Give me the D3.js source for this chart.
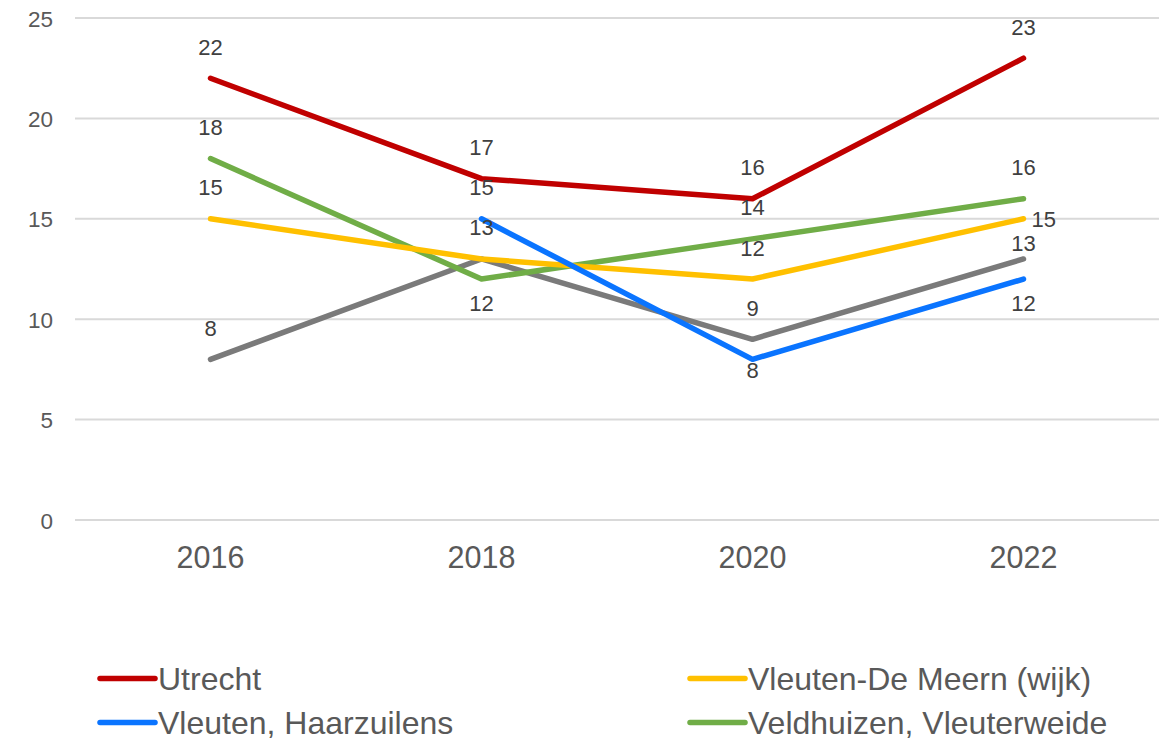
<!DOCTYPE html>
<html>
<head>
<meta charset="utf-8">
<script src="https://cdn.jsdelivr.net/npm/d3@7"></script>
<style>
  body { margin: 0; background: #fff; }
  text { font-family: "Liberation Sans", Arial, sans-serif; }
</style>
</head>
<body>
<svg width="1171" height="740"></svg>
<script>
// chart data
const years = ["2016", "2018", "2020", "2022"];
const yTicks = [0, 5, 10, 15, 20, 25];

const utrecht = [22, 17, 16, 23];
const vleutenDeMeern = [15, 13, 12, 15];
const vleutenHaarzuilens = [null, 15, 8, 12];
const veldhuizen = [18, 12, 14, 16];
const overig = [8, 13, 9, 13];

// where each data label sits relative to its point
const utrechtPos = ["above", "above", "above", "above"];
const vleutenDeMeernPos = ["above", "none", "above", "right"];
const vleutenHaarzuilensPos = [null, "above", "belowNear", "below"];
const veldhuizenPos = ["above", "below", "above", "above"];
const overigPos = ["above", "above", "above", "aboveNear"];

const series = [
  { name: "Utrecht", values: utrecht, pos: utrechtPos, color: "#C00000" },
  { name: "Vleuten-De Meern (wijk)", values: vleutenDeMeern, pos: vleutenDeMeernPos, color: "#FFC000" },
  { name: "Vleuten, Haarzuilens", values: vleutenHaarzuilens, pos: vleutenHaarzuilensPos, color: "#0A74FF" },
  { name: "Veldhuizen, Vleuterweide", values: veldhuizen, pos: veldhuizenPos, color: "#70AD47" },
  { name: "", values: overig, pos: overigPos, color: "#7A7A7A" }
];

const svg = d3.select("svg");

const plotLeft = 75, plotRight = 1159, plotTop = 18, plotBottom = 520;

const x = d3.scaleBand()
            .domain(years)
            .range([plotLeft, plotRight]);

const y = d3.scaleLinear()
            .domain([0, 25])
            .range([plotBottom, plotTop]);

// gridlines
svg.append("g")
   .selectAll("line")
   .data(yTicks)
   .enter()
   .append("line")
   .attr("x1", plotLeft)
   .attr("x2", plotRight)
   .attr("y1", d => y(d))
   .attr("y2", d => y(d))
   .attr("stroke", "#D9D9D9")
   .attr("stroke-width", 2);

// y axis labels
const yAxis = svg.append("g")
                 .attr("transform", "translate(" + (plotLeft - 22) + ",0)")
                 .call(d3.axisLeft(y).tickValues(yTicks).tickSize(0).tickPadding(0));
yAxis.select(".domain").remove();
yAxis.selectAll("text")
     .attr("font-size", 22.5)
     .attr("dy", "0.36em")
     .attr("fill", "#595959")
     .style("font-family", "Liberation Sans, Arial, sans-serif");

// x axis labels
const xAxis = svg.append("g")
                 .attr("transform", "translate(0," + (plotBottom + 26) + ")")
                 .call(d3.axisBottom(x).tickSize(0).tickPadding(0));
xAxis.select(".domain").remove();
xAxis.selectAll("text")
     .attr("font-size", 30.5)
     .attr("fill", "#595959")
     .style("font-family", "Liberation Sans, Arial, sans-serif");

const cx = d => x(d) + x.bandwidth() / 2;

const line = d3.line()
               .defined(d => d.v != null)
               .x(d => cx(d.year))
               .y(d => y(d.v));

// draw the lines, grey first so it sits underneath like in the picture
const drawOrder = [4, 3, 1, 2, 0];
drawOrder.forEach(function (i) {
  const s = series[i];
  const pts = years.map((yr, j) => ({ year: yr, v: s.values[j], pos: s.pos[j] }));
  svg.append("path")
     .datum(pts)
     .attr("fill", "none")
     .attr("stroke", s.color)
     .attr("stroke-width", 5.5)
     .attr("stroke-linecap", "round")
     .attr("stroke-linejoin", "round")
     .attr("d", line);
});

// baseline offsets for the label positions
const labelDy = { above: -23.5, aboveNear: -7.5, below: 32, belowNear: 19, right: 8 };

// data labels
series.forEach(function (s) {
  const pts = years.map((yr, j) => ({ year: yr, v: s.values[j], pos: s.pos[j] }))
                   .filter(d => d.v != null && d.pos && d.pos !== "none");
  svg.append("g")
     .selectAll("text")
     .data(pts)
     .enter()
     .append("text")
     .attr("x", d => d.pos === "right" ? cx(d.year) + 8 : cx(d.year))
     .attr("y", d => y(d.v) + labelDy[d.pos])
     .attr("text-anchor", d => d.pos === "right" ? "start" : "middle")
     .attr("font-size", 22)
     .attr("fill", "#404040")
     .text(d => d.v);
});

// legend, two columns
const legendItems = series.slice(0, 4);
const legend = svg.append("g")
                  .selectAll("g")
                  .data(legendItems)
                  .enter()
                  .append("g")
                  .attr("transform", (d, i) => "translate(" + (i % 2 === 0 ? 100 : 690) + "," + (i < 2 ? 678.5 : 722.5) + ")");

legend.append("line")
      .attr("x1", 0)
      .attr("x2", 55)
      .attr("stroke", d => d.color)
      .attr("stroke-width", 5.5)
      .attr("stroke-linecap", "round");

legend.append("text")
      .attr("x", 58)
      .attr("y", 11)
      .attr("font-size", 32)
      .attr("fill", "#595959")
      .text(d => d.name);
</script>
</body>
</html>
